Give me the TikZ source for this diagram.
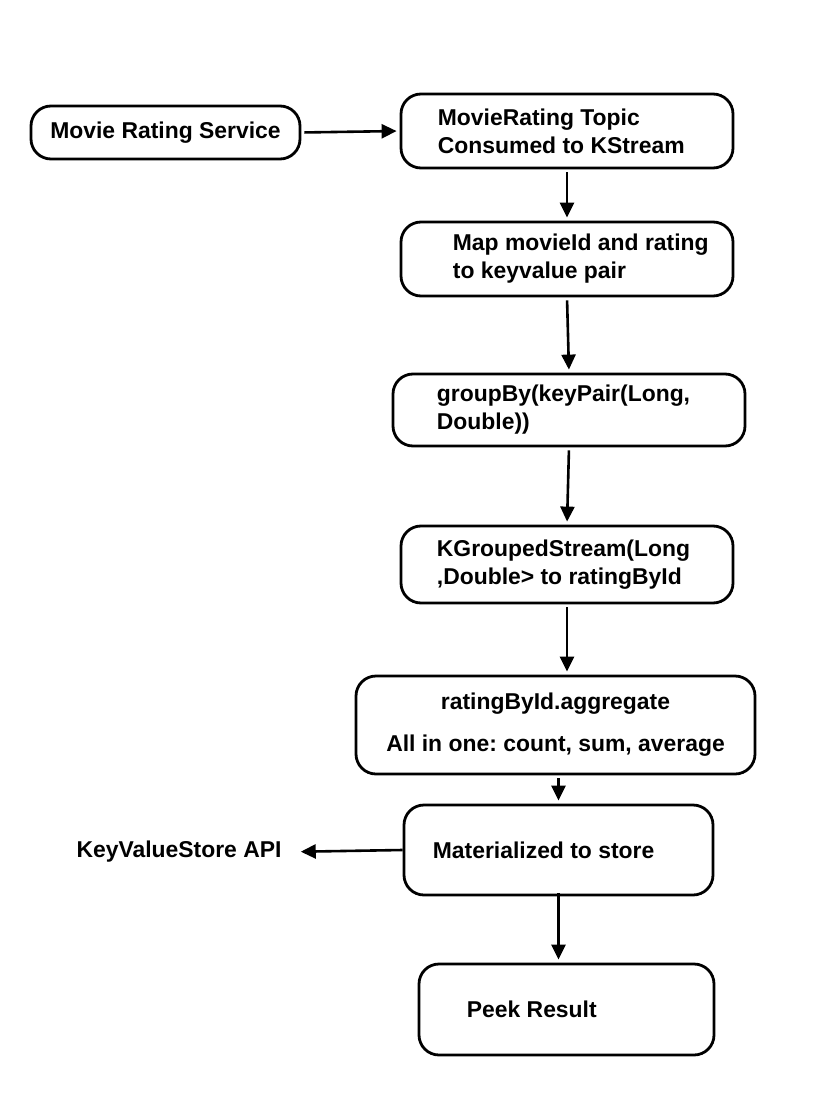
\documentclass[tikz,border=0pt]{standalone}
\usepackage{fontspec}
\setmainfont{Liberation Sans}
\usetikzlibrary{arrows.meta,positioning}
\frenchspacing

\begin{document}
\begin{tikzpicture}[x=1pt,y=-1pt,line width=2.6pt,
font=\fontsize{22.9}{28}\selectfont\bfseries,
sysblock/.style={draw,rectangle,rounded corners=20pt,inner sep=0pt,line width=2.8pt},
blocktext/.style={align=left,inner sep=0pt},
flow/.style={-{Triangle[length=15pt,width=14pt]},shorten <=3pt,shorten >=3pt}]

\useasboundingbox (0,0) rectangle (832,1102);

\draw (165.5,132.5) node[sysblock,minimum width=269pt,minimum height=53pt] (svc) {Movie Rating Service};

\draw (567,131) node[sysblock,minimum width=332pt,minimum height=74pt] (topic) {};
\node[blocktext,right=37pt of topic.west] (topic-t) {MovieRating Topic\\Consumed to KStream};

\draw (567,259) node[sysblock,minimum width=332pt,minimum height=74pt] (map) {};
\node[blocktext,right=52pt of map.west] (map-t) {Map movieId and rating\\to keyvalue pair};

\draw (569,410) node[sysblock,minimum width=352pt,minimum height=72pt] (grp) {};
\node[blocktext,right=44pt of grp.west] (grp-t) {groupBy(keyPair(Long,\\Double))};

\draw (567,564.5) node[sysblock,minimum width=332pt,minimum height=77pt] (kgs) {};
\node[blocktext,right=36pt of kgs.west] (kgs-t) {KGroupedStream(Long\\,Double> to ratingById};

\draw (555.5,725) node[sysblock,minimum width=399pt,minimum height=98pt,align=center,
  font=\fontsize{22.9}{42}\selectfont\bfseries] (agg) {ratingById.aggregate\\All in one: count, sum, average};

\draw (558.5,850) node[sysblock,minimum width=309pt,minimum height=90pt] (mat) {};
\node[blocktext,right=29pt of mat.west] (mat-t) {Materialized to store};

\draw (566.5,1009.5) node[sysblock,minimum width=295pt,minimum height=91pt] (peek) {};
\node[blocktext,right=48pt of peek.west] (peek-t) {Peek Result};

\draw (179,852) node[blocktext] (api) {KeyValueStore API};

% connectors
\draw[flow] (svc.east) -- (topic.west);
\draw[flow] (topic.south) -- (map.north);
\draw[flow] (map.south) -- (grp.north);
\draw[flow] (grp.south) -- (kgs.north);
\draw[flow] (kgs.south) -- (kgs.south |- agg.north);
\draw[flow] (mat.north |- agg.south) -- (mat.north);
\draw[flow,shorten <=-3pt] (mat.south) -- (mat.south |- peek.north);
\draw[flow,shorten <=0pt,shorten >=18pt] (mat.west) -- (api.east);
\end{tikzpicture}
\end{document}
